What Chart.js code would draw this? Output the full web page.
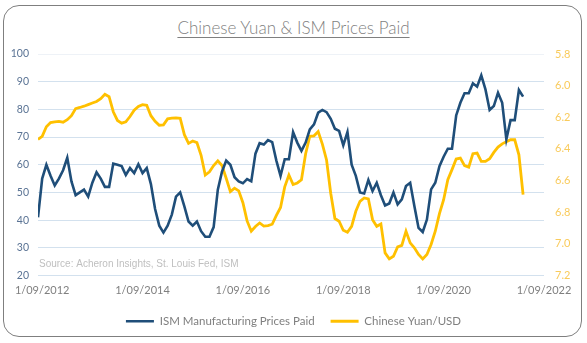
<!DOCTYPE html>
<html>
<head>
<meta charset="utf-8">
<script src="https://cdn.jsdelivr.net/npm/chart.js@4.4.1/dist/chart.umd.min.js"></script>
<style>
  html, body { margin: 0; padding: 0; background: #fff; }
  #wrap { position: relative; width: 587px; height: 343px; }
  #card { position: absolute; left: 3px; top: 5px; width: 577px; height: 330px;
          border: 1.5px solid #7f7f7f; border-radius: 16px; }
  #title { position: absolute; left: 0; width: 587px; top: 17px; text-align: center;
           font-family: Lato, "Open Sans", sans-serif; font-weight: 300; font-size: 17px;
           color: #7f7f7f; }
  #title span { text-decoration: underline; text-underline-offset: 3px; text-decoration-thickness: 1px; }
  canvas { position: absolute; left: 0; top: 0; }
</style>
</head>
<body>
<div id="wrap">
  <div id="card"></div>
  <div id="title"><span>Chinese Yuan &amp; ISM Prices Paid</span></div>
  <canvas id="myChart" width="587" height="343"></canvas>
</div>
<script>
// monthly, first value = Aug 2012 (x = -1), x counts months from 1/09/2012
const ismPrices = [41,55,60,56,52.5,55,58,62.5,54,49,50,51,48.5,53.5,57.3,55,52,52,60.4,60,
  59.5,56.3,58.8,57,60.2,57,58.8,53,44,38,35.5,38,42,48.5,50,45,39.5,38,39.5,36,
  34,34,37.5,51,57.5,61.5,60,55.5,54,53.3,54.8,54,64,67.8,67.3,68.9,68.2,61.5,56,62,
  62,71.8,68,65,68,72.8,74.6,78.8,79.8,79,76.6,73,72.2,67,71.8,60,56,50,49.6,54.5,
  50.5,53.5,49,45.3,46,50,45.7,47.5,52.3,53.5,45.1,37.2,35.7,40.2,51.1,53.5,59.5,62.9,65.8,65.8,
  77.8,82.4,85.8,85.8,89.4,88.2,92.3,87.2,79.8,81.2,86,82.4,69.2,76.1,76.1,87,84.6]
const yuanUsd = [6.34,6.32,6.26,6.233,6.229,6.226,6.231,6.215,6.19,6.145,6.138,6.13,6.12,6.11,6.10,6.082,6.055,6.07,6.165,6.22,
  6.237,6.229,6.195,6.155,6.132,6.12,6.124,6.19,6.225,6.25,6.248,6.21,6.205,6.204,6.206,6.31,6.365,6.35,6.36,6.44,
  6.565,6.545,6.505,6.475,6.505,6.585,6.67,6.648,6.665,6.74,6.855,6.92,6.89,6.868,6.888,6.885,6.876,6.82,6.77,6.64,
  6.565,6.625,6.615,6.595,6.43,6.32,6.317,6.29,6.37,6.47,6.68,6.84,6.857,6.914,6.927,6.889,6.794,6.731,6.71,6.716,
  6.847,6.889,6.874,7.057,7.095,7.078,7.019,7.01,6.92,6.994,7.025,7.067,7.095,7.067,7.004,6.92,6.809,6.721,6.595,6.531,
  6.464,6.458,6.506,6.515,6.43,6.426,6.479,6.479,6.462,6.422,6.388,6.368,6.355,6.342,6.342,6.437,6.689]
const tickYears = [2012,2014,2016,2018,2020,2022]
const seriesNames = ['ISM Manufacturing Prices Paid','Chinese Yuan/USD']
const sourceNote = 'Source: Acheron Insights, St. Louis Fed, ISM'

const blue = '#1F4E79'
const gold = '#FFC000'

const toPoints = arr => arr.map((v, i) => ({x: i - 1, y: v}))

const sourcePlugin = {
  id: 'sourceNote',
  afterDatasetsDraw(chart) {
    const ctx = chart.ctx, a = chart.chartArea
    ctx.save()
    ctx.font = '10px "Liberation Sans", Arial, sans-serif'
    ctx.fillStyle = '#BFBFBF'
    ctx.textBaseline = 'middle'
    ctx.fillText(sourceNote, a.left + 1, 264)
    ctx.restore()
  }
}

new Chart('myChart', {
  type: 'line',
  data: {
    datasets: [{
      label: seriesNames[0],
      data: toPoints(ismPrices),
      borderColor: blue,
      backgroundColor: blue,
      borderWidth: 2.6,
      pointRadius: 0,
      tension: 0,
      yAxisID: 'y'
    }, {
      label: seriesNames[1],
      data: toPoints(yuanUsd),
      borderColor: gold,
      backgroundColor: gold,
      borderWidth: 2.8,
      pointRadius: 0,
      tension: 0,
      yAxisID: 'y1'
    }]
  },
  options: {
    responsive: false,
    animation: false,
    layout: {padding: {top: 54, bottom: 6, left: 0, right: 0}},
    plugins: {
      legend: {
        position: 'bottom',
        labels: {
          usePointStyle: true,
          pointStyle: 'line',
          pointStyleWidth: 28,
          padding: 16,
          color: '#7f7f7f',
          font: {family: 'Lato, "Open Sans", sans-serif', size: 11.5}
        }
      },
      tooltip: {enabled: false}
    },
    scales: {
      x: {
        type: 'linear',
        min: -1,
        max: 120,
        grid: {display: false, drawTicks: false},
        border: {display: false},
        afterBuildTicks: s => { s.ticks = tickYears.map((y, i) => ({value: i * 24})) },
        afterFit: s => { s.height = 24 },
        ticks: {
          padding: 8,
          color: '#7f7f7f',
          font: {family: 'Lato, "Open Sans", sans-serif', size: 11},
          callback: (v, i) => '1/09/' + tickYears[i]
        }
      },
      y: {
        position: 'left',
        min: 20,
        max: 100,
        afterFit: s => { s.width = 38 },
        border: {display: false},
        grid: {
          drawTicks: false,
          color: c => c.tick && c.tick.value === 100 ? '#EEF2F7' : '#D3E1EE',
          lineWidth: 1
        },
        ticks: {
          stepSize: 10,
          padding: 9,
          color: '#5A7394',
          font: {family: 'Lato, "Open Sans", sans-serif', size: 10.5}
        }
      },
      y1: {
        position: 'right',
        reverse: true,
        min: 5.8,
        max: 7.2,
        afterFit: s => { s.width = 43 },
        border: {display: false},
        grid: {display: false, drawTicks: false},
        ticks: {
          stepSize: 0.2,
          padding: 11,
          color: '#F9CB5C',
          font: {family: 'Lato, "Open Sans", sans-serif', size: 11},
          callback: v => Number(v).toFixed(1)
        }
      }
    }
  },
  plugins: [sourcePlugin]
})
</script>
</body>
</html>
